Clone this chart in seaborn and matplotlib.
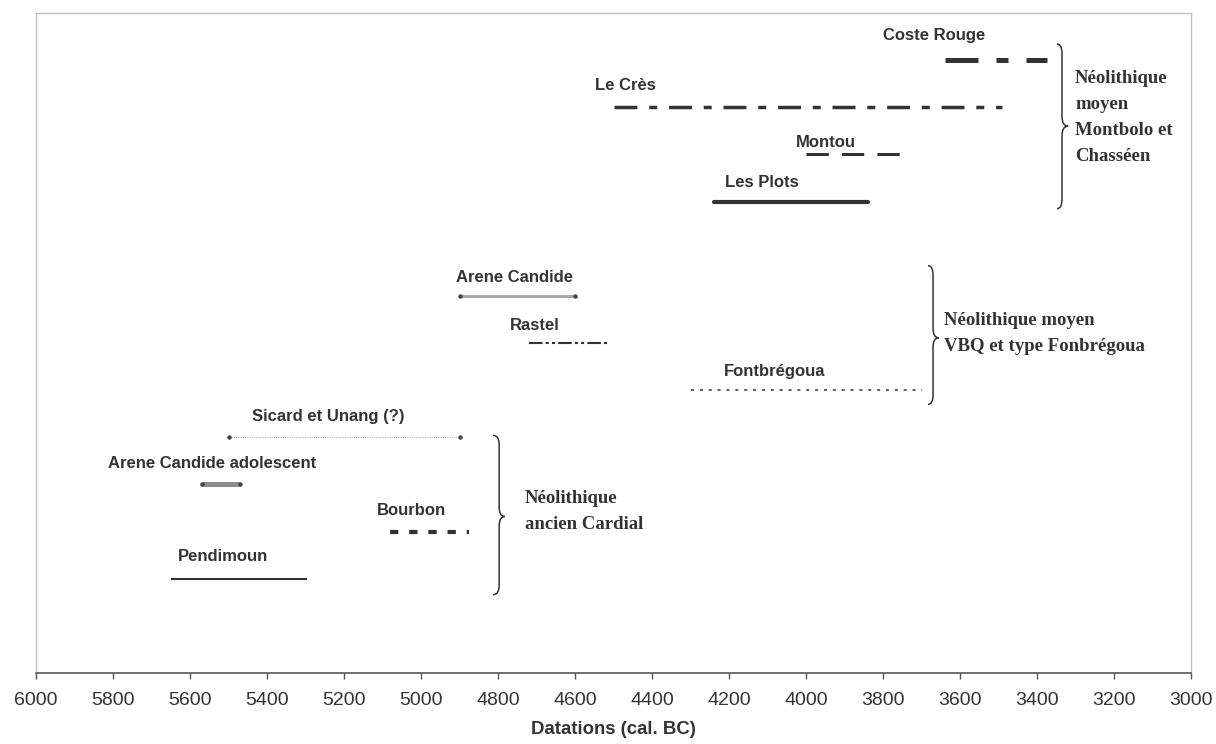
import pandas as pd
import seaborn as sns
import matplotlib.pyplot as plt
from matplotlib.path import Path
from matplotlib.patches import PathPatch

# sites, dates (cal. BC) and row on the chart
sites = ["Coste Rouge", "Le Crès", "Montou", "Les Plots",
         "Arene Candide", "Rastel", "Fontbrégoua",
         "Sicard et Unang (?)", "Arene Candide adolescent", "Bourbon", "Pendimoun"]
start = [3640, 4500, 4000, 4240, 4900, 4720, 4300, 5500, 5570, 5080, 5650]
end = [3375, 3490, 3745, 3840, 4600, 4515, 3700, 4900, 5470, 4875, 5295]
row = [13, 12, 11, 10, 8, 7, 6, 5, 4, 3, 2]

groups = ["Néolithique\nmoyen\nMontbolo et\nChasséen",
          "Néolithique moyen\nVBQ et type Fonbrégoua",
          "Néolithique\nancien Cardial"]

# label placement (left x in years, y in rows)
lab_x = [3800, 4548, 4026, 4210, 4909, 4769, 4213, 5439, 5813, 5114, 5631]
lab_y = [13.53, 12.47, 11.26, 10.40, 8.40, 7.38, 6.40, 5.45, 4.45, 3.45, 2.47]

# line styles: (color, width pt, linestyle, end markers)
styles = {
    "Coste Rouge": ("#333333", 3.6, (0, (6.6, 3.6, 2.4, 3.6)), False),
    "Le Crès": ("#333333", 2.5, (0, (6.6, 3.4, 2.3, 3.4)), False),
    "Montou": ("#333333", 2.2, (0, (7.3, 4.3)), False),
    "Les Plots": ("#333333", 3.0, "-", False),
    "Arene Candide": ("#a8a8a8", 2.2, "-", True),
    "Rastel": ("#333333", 1.5, (0, (6.5, 1.5, 1.5, 1.5, 1.5, 1.5)), False),
    "Fontbrégoua": ("#333333", 1.1, (0, (2, 3.8)), False),
    "Sicard et Unang (?)": ("#b0b0b0", 0.8, (0, (1, 1)), True),
    "Arene Candide adolescent": ("#8c8c8c", 3.6, "-", True),
    "Bourbon": ("#333333", 3.0, (0, (2, 2.6)), False),
    "Pendimoun": ("#333333", 1.5, "-", False),
}

df = pd.DataFrame({
    "site": sites * 2,
    "date": start + end,
    "row": row * 2,
})

sns.set_style("white")
plt.rcParams["font.family"] = ["Liberation Sans", "DejaVu Sans"]

fig = plt.figure(figsize=(12.16, 7.44), dpi=100)
ax = fig.add_axes([36 / 1216, 71 / 744, 1155 / 1216, 660 / 744])

for s in sites:
    color, lw, ls, ends = styles[s]
    sub = df[df["site"] == s]
    sns.lineplot(data=sub, x="date", y="row", ax=ax, color=color, linewidth=lw,
                 linestyle=ls, sort=False,
                 solid_capstyle="round" if s == "Les Plots" else "butt",
                 errorbar=None, legend=False)
    if ends:
        ax.plot(sub["date"], sub["row"], "o", color="#444444", markersize=2.2, zorder=3)

for s, x, y in zip(sites, lab_x, lab_y):
    ax.text(x, y, s, ha="left", va="center", fontsize=12, fontweight="bold", color="#333333")


def brace(ax, xl, xs, xt, top, mid, bot, r=0.2):
    verts = [(xl, top), (xs, top), (xs, top - r),
             (xs, mid + r),
             (xs, mid), (xt, mid),
             (xs, mid), (xs, mid - r),
             (xs, bot + r),
             (xs, bot), (xl, bot)]
    codes = [Path.MOVETO, Path.CURVE3, Path.CURVE3, Path.LINETO,
             Path.CURVE3, Path.CURVE3, Path.CURVE3, Path.CURVE3,
             Path.LINETO, Path.CURVE3, Path.CURVE3]
    ax.add_patch(PathPatch(Path(verts, codes), fill=False, edgecolor="#333333", lw=1.1))


brace(ax, 3348, 3335, 3319, 13.34, 11.6, 9.85)
brace(ax, 3683, 3670, 3655, 8.64, 7.11, 5.70)
brace(ax, 4813, 4797, 4782, 5.04, 3.32, 1.66)

grp_x = [3301, 3642, 4730]
grp_y = [11.79, 7.20, 3.43]
for g, x, y in zip(groups, grp_x, grp_y):
    ax.text(x, y, g, ha="left", va="center", fontsize=13.5, fontweight="bold",
            color="#333333", family=["Liberation Serif", "DejaVu Serif"], linespacing=1.7)

ax.set_xlim(6000, 3000)
ax.set_ylim(0, 14)
ax.set_xticks(list(range(6000, 2999, -200)))
ax.set_yticks([])
ax.set_ylabel("")
ax.set_xlabel("Datations (cal. BC)", fontsize=13.4, fontweight="bold", color="#333333", labelpad=9)
ax.tick_params(axis="x", direction="out", length=4.5, width=1, color="#555555",
               labelsize=14, labelcolor="#333333", pad=9, bottom=True)
for side in ["left", "top", "right"]:
    ax.spines[side].set_color("#c4c0bc")
    ax.spines[side].set_linewidth(1)
ax.spines["bottom"].set_color("#555555")
ax.spines["bottom"].set_linewidth(1.2)

fig.savefig("out.png", dpi=100)
